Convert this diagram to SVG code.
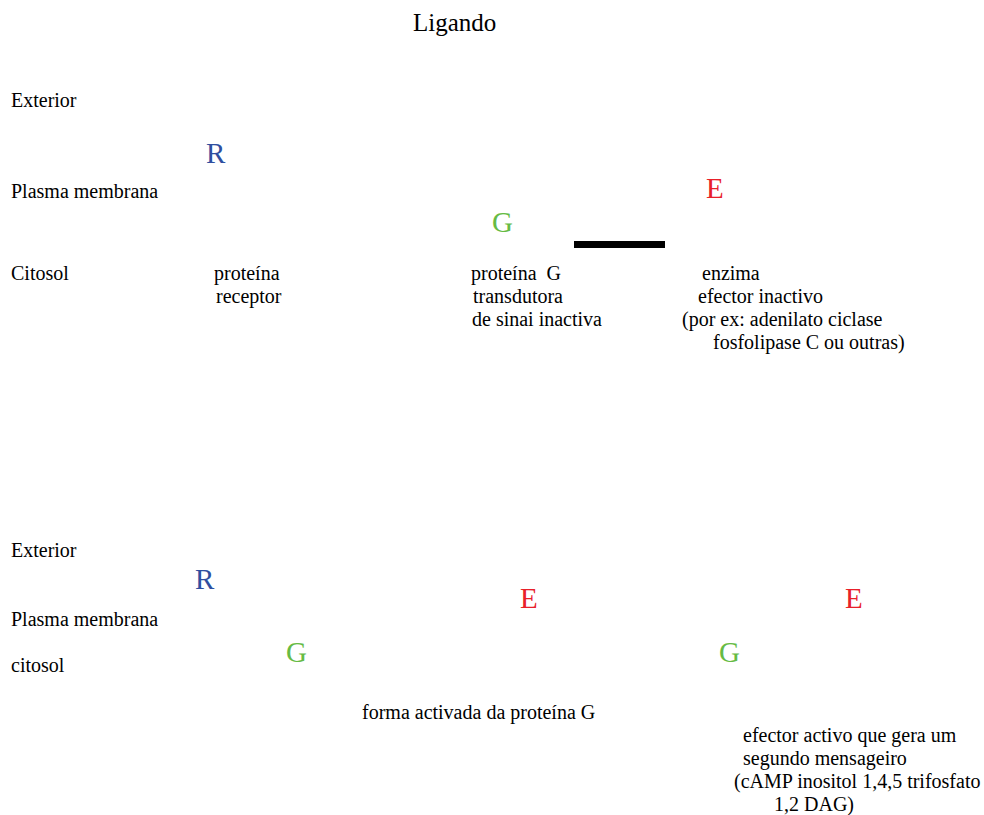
<svg xmlns="http://www.w3.org/2000/svg" width="984" height="815" viewBox="0 0 984 815">
  <style>
    text { font-family: "Liberation Serif", "Times New Roman", serif; fill: #000; }
    .lbl { font-size: 20px; }
    .title { font-size: 25px; }
    .big { font-size: 29px; }
    .r { fill: #2f4fa0; }
    .g { fill: #66bb44; }
    .e { fill: #e8202a; }
  </style>
  <rect width="984" height="815" fill="#fff"/>

  <!-- Inactive state -->
  <g id="ligand"><text class="title" x="413" y="31">Ligando</text></g>
  <g id="zones-top">
    <text class="lbl" x="11" y="107">Exterior</text>
    <text class="lbl" x="11" y="198">Plasma membrana</text>
    <text class="lbl" x="11" y="280">Citosol</text>
  </g>
  <g id="receptor-top">
    <text class="big r" x="206" y="163">R</text>
    <text class="lbl" x="214" y="280">proteína</text>
    <text class="lbl" x="216" y="303">receptor</text>
  </g>
  <g id="gprotein-top">
    <text class="big g" x="492" y="232">G</text>
    <text class="lbl" x="471" y="280" xml:space="preserve">proteína  G</text>
    <text class="lbl" x="473" y="303">transdutora</text>
    <text class="lbl" x="472" y="326">de sinai inactiva</text>
  </g>
  <g id="bar"><rect x="574" y="241" width="91" height="7" fill="#000"/></g>
  <g id="effector-top">
    <text class="big e" x="706" y="198">E</text>
    <text class="lbl" x="702" y="280">enzima</text>
    <text class="lbl" x="698" y="303">efector inactivo</text>
    <text class="lbl" x="682" y="326">(por ex: adenilato ciclase</text>
    <text class="lbl" x="713" y="349">fosfolipase C ou outras)</text>
  </g>

  <!-- Active state -->
  <g id="zones-bottom">
    <text class="lbl" x="11" y="557">Exterior</text>
    <text class="lbl" x="11" y="626">Plasma membrana</text>
    <text class="lbl" x="11" y="672">citosol</text>
  </g>
  <g id="receptor-bottom"><text class="big r" x="195" y="589">R</text></g>
  <g id="gprotein-bottom-1"><text class="big g" x="286" y="662">G</text></g>
  <g id="effector-bottom-1"><text class="big e" x="520" y="608">E</text></g>
  <g id="gprotein-label"><text class="lbl" x="362" y="719">forma activada da proteína G</text></g>
  <g id="gprotein-bottom-2"><text class="big g" x="719" y="662">G</text></g>
  <g id="effector-bottom-2">
    <text class="big e" x="845" y="608">E</text>
    <text class="lbl" x="743" y="742">efector activo que gera um</text>
    <text class="lbl" x="743" y="765">segundo mensageiro</text>
    <text class="lbl" x="734" y="788">(cAMP inositol 1,4,5 trifosfato</text>
    <text class="lbl" x="774" y="811">1,2 DAG)</text>
  </g>

  <g id="connectors"/>
</svg>
